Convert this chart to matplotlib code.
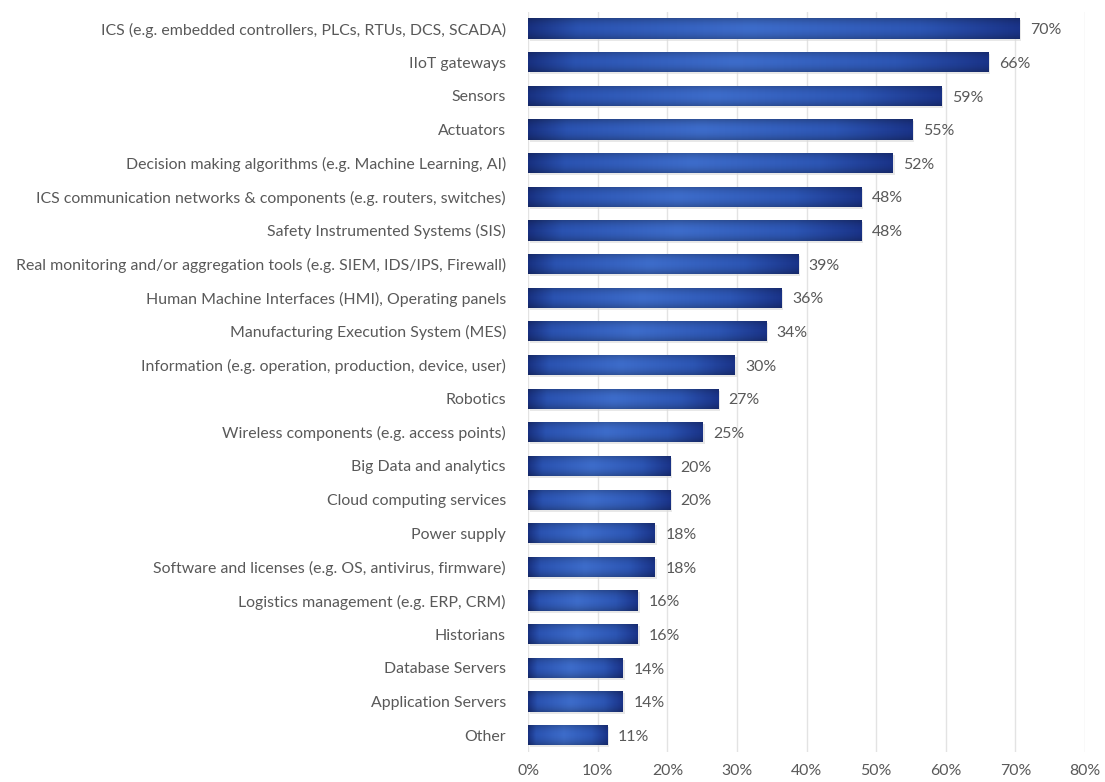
import matplotlib
matplotlib.use("Agg")
import matplotlib.pyplot as plt
import numpy as np
from matplotlib.colors import LinearSegmentedColormap

categories = [
    "ICS (e.g. embedded controllers, PLCs, RTUs, DCS, SCADA)",
    "IIoT gateways",
    "Sensors",
    "Actuators",
    "Decision making algorithms (e.g. Machine Learning, AI)",
    "ICS communication networks & components (e.g. routers, switches)",
    "Safety Instrumented Systems (SIS)",
    "Real monitoring and/or aggregation tools (e.g. SIEM, IDS/IPS, Firewall)",
    "Human Machine Interfaces (HMI), Operating panels",
    "Manufacturing Execution System (MES)",
    "Information (e.g. operation, production, device, user)",
    "Robotics",
    "Wireless components (e.g. access points)",
    "Big Data and analytics",
    "Cloud computing services",
    "Power supply",
    "Software and licenses (e.g. OS, antivirus, firmware)",
    "Logistics management (e.g. ERP, CRM)",
    "Historians",
    "Database Servers",
    "Application Servers",
    "Other",
]
values = [70.6, 66.1, 59.4, 55.2, 52.4, 47.9, 47.9, 38.8, 36.4, 34.2, 29.7,
          27.3, 25.1, 20.4, 20.4, 18.2, 18.2, 15.8, 15.8, 13.6, 13.6, 11.4]
value_labels = ["70%", "66%", "59%", "55%", "52%", "48%", "48%", "39%", "36%",
                "34%", "30%", "27%", "25%", "20%", "20%", "18%", "18%", "16%",
                "16%", "14%", "14%", "11%"]
xticks = [0, 10, 20, 30, 40, 50, 60, 70, 80]
xtick_labels = ["0%", "10%", "20%", "30%", "40%", "50%", "60%", "70%", "80%"]

plt.rcParams['font.family'] = ['Lato', 'DejaVu Sans']
text_color = "#595959"

fig = plt.figure(figsize=(11.05, 7.82), dpi=100)
ax = fig.add_axes([0.478, 0.0384, 0.504, 0.9466])

n = len(categories)
y = np.arange(n)
bar_h = 0.6

cmap = LinearSegmentedColormap.from_list(
    "cyl", [(0.0, "#18307f"), (0.1, "#2a52b0"), (0.45, "#3d6cca"),
            (0.8, "#2c55b3"), (1.0, "#1a3388")])

# shadows
ax.barh(y + 0.06, values, height=bar_h, left=0.25, color="#d9d9d9",
        alpha=0.6, zorder=2, linewidth=0)
bars = ax.barh(y, values, height=bar_h, color="#2b55b3", zorder=3, linewidth=0)

grad = np.linspace(0, 1, 256).reshape(1, -1)
vert = np.linspace(0, 1, 32).reshape(-1, 1)
for rect, v in zip(bars, values):
    x0, y0 = rect.get_x(), rect.get_y()
    w, h = rect.get_width(), rect.get_height()
    img = ax.imshow(np.tile(grad, (32, 1)), cmap=cmap, aspect="auto",
                    extent=[x0, x0 + w, y0 + h, y0], zorder=4,
                    interpolation="bilinear")
    img.set_clip_path(rect)
    shade = np.zeros((32, 2, 4))
    shade[..., :3] = 0.05
    shade[..., 3] = (np.abs(vert - 0.5) * 2) ** 2 * 0.25
    im2 = ax.imshow(shade, aspect="auto", extent=[x0, x0 + w, y0 + h, y0],
                    zorder=5, interpolation="bilinear")
    im2.set_clip_path(rect)

for yi, v, lab in zip(y, values, value_labels):
    ax.text(v + 1.5, yi + 0.05, lab, va="center", ha="left",
            fontsize=11.4, color=text_color, zorder=6)

ax.set_ylim(n - 0.5, -0.5)
ax.set_xlim(0, 80)
ax.set_yticks(y)
ax.set_yticklabels(categories, fontsize=11.4, color=text_color)
ax.set_xticks(xticks)
ax.set_xticklabels(xtick_labels, fontsize=11.4, color=text_color)
ax.tick_params(axis="both", length=0)
ax.tick_params(axis="y", pad=16)
ax.tick_params(axis="x", pad=9)
ax.xaxis.grid(True, color="#e3e3e3", linewidth=1, zorder=0)
ax.set_axisbelow(True)
for s in ax.spines.values():
    s.set_visible(False)

fig.savefig("out.png", dpi=100)
